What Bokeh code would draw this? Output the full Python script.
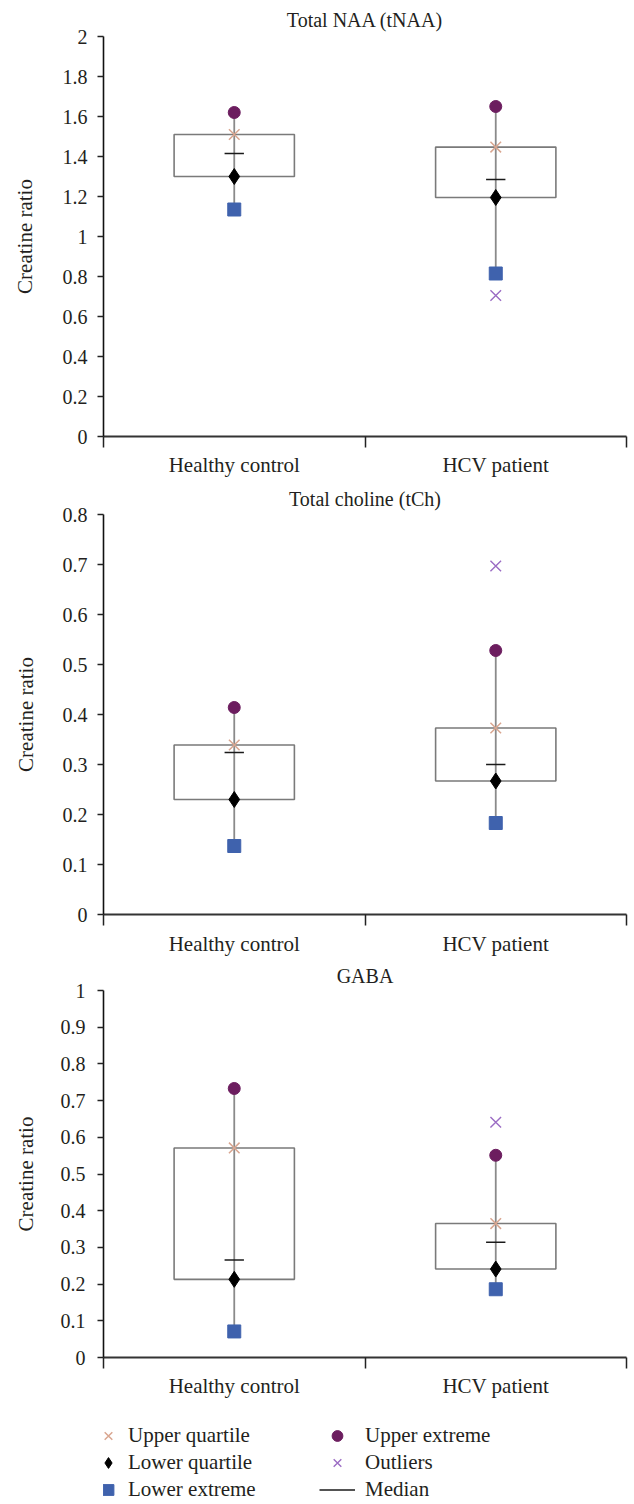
import numpy as np
from bokeh.plotting import figure
from bokeh.models import Range1d, FixedTicker, Legend, LegendItem
from bokeh.layouts import column
from bokeh.embed import file_html
from bokeh.resources import INLINE

# ---------------- data ----------------
categories = ["Healthy control", "HCV patient"]
titles = ["Total NAA (tNAA)", "Total choline (tCh)", "GABA"]

naa_ticks = [0, 0.2, 0.4, 0.6, 0.8, 1.0, 1.2, 1.4, 1.6, 1.8, 2.0]
naa_upper_extreme = [1.62, 1.65]
naa_upper_quartile = [1.51, 1.447]
naa_median = [1.415, 1.285]
naa_lower_quartile = [1.30, 1.195]
naa_lower_extreme = [1.135, 0.815]
naa_outlier_cat = ["HCV patient"]
naa_outliers = [0.705]

tch_ticks = [0, 0.1, 0.2, 0.3, 0.4, 0.5, 0.6, 0.7, 0.8]
tch_upper_extreme = [0.414, 0.528]
tch_upper_quartile = [0.339, 0.373]
tch_median = [0.324, 0.300]
tch_lower_quartile = [0.230, 0.267]
tch_lower_extreme = [0.137, 0.183]
tch_outlier_cat = ["HCV patient"]
tch_outliers = [0.697]

gaba_ticks = [0, 0.1, 0.2, 0.3, 0.4, 0.5, 0.6, 0.7, 0.8, 0.9, 1.0]
gaba_upper_extreme = [0.733, 0.551]
gaba_upper_quartile = [0.571, 0.365]
gaba_median = [0.266, 0.314]
gaba_lower_quartile = [0.213, 0.241]
gaba_lower_extreme = [0.071, 0.186]
gaba_outlier_cat = ["HCV patient"]
gaba_outliers = [0.641]

legend_keys_col1 = ["uq", "lq", "le"]
legend_labels_col1 = ["Upper quartile", "Lower quartile", "Lower extreme"]
legend_keys_col2 = ["ue", "out", "med"]
legend_labels_col2 = ["Upper extreme", "Outliers", "Median"]

FONT = "Liberation Serif"
TXT = "#231f20"
C_UQ = "#d9a690"
C_LQ = "#000000"
C_LE = "#3f62ad"
C_UE = "#6c1d5f"
C_OUT = "#9b6cc4"
C_MED = "#1a1a1a"

STY = {
    "uq": dict(marker="x", size=15, line_color=C_UQ, line_width=1.5),
    "lq": dict(marker="diamond", size=16, fill_color=C_LQ, line_color=C_LQ),
    "le": dict(marker="square", size=13, fill_color=C_LE, line_color=C_LE),
    "ue": dict(marker="circle", size=12, fill_color=C_UE, line_color=C_UE),
    "out": dict(marker="x", size=15, line_color=C_OUT, line_width=1.4),
}


def panel(title, ticks, ue, uq, med, lq, le, out_cat, out_val,
          width, height, bl, br, bt, bb, title_standoff, xlab_standoff,
          ytick_standoff, ylab_standoff):
    p = figure(width=width, height=height, x_range=Range1d(0, len(categories)),
               y_range=Range1d(ticks[0], ticks[-1]), output_backend="svg",
               toolbar_location=None, title=title,
               min_border_left=bl, min_border_right=br,
               min_border_top=bt, min_border_bottom=bb)
    p.outline_line_color = None
    p.grid.visible = False
    p.background_fill_color = None
    p.border_fill_color = None

    p.title.align = "center"
    p.title.text_font = FONT
    p.title.text_font_size = "20px"
    p.title.text_font_style = "normal"
    p.title.text_color = TXT
    p.title.standoff = title_standoff

    xs = [categories.index(c) + 0.5 for c in categories]
    ox = [categories.index(c) + 0.5 for c in out_cat]
    hw = 0.23
    mw = 0.037

    p.quad(left=[x - hw for x in xs], right=[x + hw for x in xs], top=uq, bottom=lq,
           fill_color=None, line_color="#7a7a7a", line_width=1.6)
    p.segment(x0=xs, y0=le, x1=xs, y1=ue, line_color="#8a8a8a", line_width=1.8)
    p.segment(x0=[x - mw for x in xs], x1=[x + mw for x in xs], y0=med, y1=med,
              line_color=C_MED, line_width=1.5)
    p.scatter(xs, uq, **STY["uq"])
    p.scatter(xs, lq, **STY["lq"])
    p.scatter(xs, le, **STY["le"])
    p.scatter(xs, ue, **STY["ue"])
    p.scatter(ox, out_val, **STY["out"])

    # x axis: labels at category centres, ticks at category boundaries
    xa = p.xaxis[0]
    xa.ticker = FixedTicker(ticks=xs, minor_ticks=list(range(len(categories) + 1)))
    xa.major_label_overrides = {x: c for x, c in zip(xs, categories)}
    xa.major_tick_line_color = None
    xa.major_tick_out = 0
    xa.major_tick_in = 0
    xa.minor_tick_line_color = "#222222"
    xa.minor_tick_line_width = 1.5
    xa.minor_tick_out = 11
    xa.minor_tick_in = 0
    xa.axis_line_color = "#333333"
    xa.axis_line_width = 1.8
    xa.major_label_text_font = FONT
    xa.major_label_text_font_size = "21px"
    xa.major_label_text_color = TXT
    xa.major_label_standoff = xlab_standoff

    ya = p.yaxis[0]
    ya.ticker = FixedTicker(ticks=ticks)
    ya.major_label_overrides = {t: f"{t:g}" for t in ticks}
    ya.major_tick_out = 6
    ya.major_tick_in = 0
    ya.major_tick_line_color = "#222222"
    ya.major_tick_line_width = 1.3
    ya.minor_tick_line_color = None
    ya.axis_line_color = "#111111"
    ya.axis_line_width = 1.6
    ya.major_label_text_font = FONT
    ya.major_label_text_font_size = "20px"
    ya.major_label_text_color = TXT
    ya.major_label_standoff = ytick_standoff
    ya.axis_label = "Creatine ratio"
    ya.axis_label_text_font = FONT
    ya.axis_label_text_font_size = "21px"
    ya.axis_label_text_font_style = "normal"
    ya.axis_label_text_color = TXT
    ya.axis_label_standoff = ylab_standoff
    return p


W = 632
BL = 103
BR = W - 626
p1 = panel(titles[0], naa_ticks, naa_upper_extreme, naa_upper_quartile, naa_median,
           naa_lower_quartile, naa_lower_extreme, naa_outlier_cat, naa_outliers,
           width=W, height=480, bl=BL, br=BR, bt=36, bb=44,
           title_standoff=11, xlab_standoff=5, ytick_standoff=10, ylab_standoff=23)

p2 = panel(titles[1], tch_ticks, tch_upper_extreme, tch_upper_quartile, tch_median,
           tch_lower_quartile, tch_lower_extreme, tch_outlier_cat, tch_outliers,
           width=W, height=478, bl=BL, br=BR, bt=34, bb=44,
           title_standoff=9, xlab_standoff=6, ytick_standoff=10, ylab_standoff=22)

p3 = panel(titles[2], gaba_ticks, gaba_upper_extreme, gaba_upper_quartile, gaba_median,
           gaba_lower_quartile, gaba_lower_extreme, gaba_outlier_cat, gaba_outliers,
           width=W, height=442, bl=BL, br=BR, bt=32, bb=43,
           title_standoff=7, xlab_standoff=5, ytick_standoff=12, ylab_standoff=20)

# ---------------- legend strip ----------------
p4 = figure(width=W, height=100, x_range=Range1d(0, 1), y_range=Range1d(0, 1),
            output_backend="svg", toolbar_location=None,
            min_border_left=BL, min_border_right=BR, min_border_top=0, min_border_bottom=0)
p4.axis.visible = False
p4.grid.visible = False
p4.outline_line_color = None
p4.background_fill_color = None
p4.border_fill_color = None

# legend-only proxy glyphs (a single NaN point: nothing is drawn in the plot area)
proxy = dict(x=[np.nan], y=[np.nan])
rl = {k: p4.scatter(**proxy, **STY[k]) for k in ["uq", "lq", "le", "ue", "out"]}
rl["med"] = p4.segment(x0=[np.nan], y0=[np.nan], x1=[np.nan], y1=[np.nan],
                       line_color=C_MED, line_width=1.5)


def make_legend(keys, labels, loc, standoff):
    items = [LegendItem(label=l, renderers=[rl[k]]) for k, l in zip(keys, labels)]
    return Legend(items=items, location=loc, orientation="vertical", padding=0, spacing=0,
                  margin=0, glyph_width=36, glyph_height=27, label_standoff=standoff,
                  label_text_font=FONT, label_text_font_size="21px", label_text_color=TXT,
                  border_line_color=None, background_fill_alpha=0)


p4.add_layout(make_legend(legend_keys_col1, legend_labels_col1, (90 - BL, -3), 2))
p4.add_layout(make_legend(legend_keys_col2, legend_labels_col2, (319 - BL, -3), 10))

layout = column(p1, p2, p3, p4, spacing=0)
open("out.html", "w").write(file_html(layout, INLINE))
